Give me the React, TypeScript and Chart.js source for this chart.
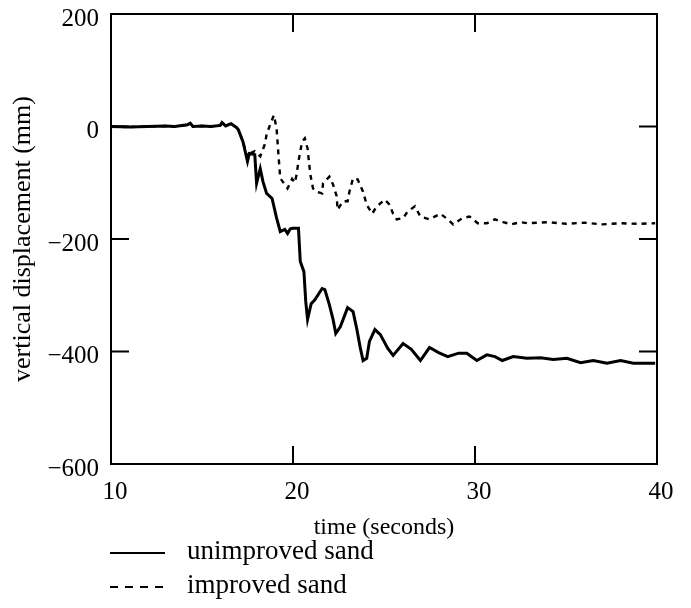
import React, { useEffect, useRef } from 'react';
import { Chart, registerables } from 'chart.js';

Chart.register(...registerables);

// ---- data ----
const unimprovedTime = [
  10.0, 11.0, 12.0, 13.0, 13.5, 14.2, 14.35, 14.5, 15.0, 15.5, 16.0, 16.1, 16.3, 16.6, 16.9,
  17.0, 17.25, 17.5, 17.6, 17.9, 18.0, 18.2, 18.35, 18.55, 18.85, 19.1, 19.3, 19.55, 19.7, 19.85,
  20.0, 20.3, 20.4, 20.6, 20.7, 20.8, 21.0, 21.2, 21.6, 21.75, 22.0, 22.2, 22.35, 22.6, 23.0,
  23.3, 23.5, 23.7, 23.85, 24.05, 24.2, 24.5, 24.8, 25.2, 25.5, 26.05, 26.5, 27.0, 27.5, 28.0,
  28.5, 29.1, 29.55, 30.1, 30.65, 31.1, 31.5, 32.1, 32.85, 33.6, 34.3, 35.05, 35.8, 36.5, 37.25,
  38.0, 38.7, 39.9,
];
const unimprovedDisp = [
  0, -1, 0, 1, 0, 3, 6, 0, 1, 0, 2, 7, 1, 5, -2,
  -6, -27, -62, -48, -50, -101, -75, -98, -119, -128, -163, -187, -183, -190, -182,
  -181, -181, -240, -258, -311, -343, -315, -308, -288, -290, -317, -343, -368, -356, -322,
  -329, -359, -394, -416, -412, -382, -361, -370, -394, -407, -386, -396, -416, -393, -402,
  -409, -403, -403, -416, -406, -409, -416, -409, -412, -411, -414, -412, -420, -416, -421,
  -416, -421, -421,
];

const improvedTime = [
  10.0, 11.0, 12.0, 13.0, 13.5, 14.2, 14.35, 14.5, 15.0, 15.5, 16.0, 16.1, 16.3, 16.6, 16.9,
  17.0, 17.25, 17.5, 17.6, 17.9, 18.2, 18.45, 18.55, 18.75, 18.95, 19.1, 19.2, 19.3, 19.55, 19.7,
  19.95, 20.1, 20.2, 20.3, 20.4, 20.5, 20.65, 20.8, 20.95, 21.1, 21.3, 21.6, 21.65, 22.0, 22.2,
  22.4, 22.45, 22.75, 23.0, 23.1, 23.3, 23.55, 23.85, 24.05, 24.35, 24.6, 25.05, 25.3, 25.5, 25.7,
  26.05, 26.3, 26.7, 27.0, 27.5, 28.1, 28.5, 28.8, 29.3, 29.7, 30.15, 30.65, 31.1, 31.55, 32.0,
  32.5, 32.9, 34.0, 35.0, 36.0, 37.0, 38.0, 39.0, 39.9,
];
const improvedDisp = [
  0, -1, 0, 1, 0, 3, 6, 0, 1, 0, 2, 7, 1, 5, -2,
  -6, -27, -55, -48, -44, -53, -32, -14, 4, 20, -4, -50, -92, -103, -110,
  -93, -100, -85, -62, -44, -27, -21, -39, -85, -110, -116, -119, -101, -89, -103,
  -124, -148, -133, -133, -116, -92, -94, -116, -139, -155, -142, -130, -139, -155, -165,
  -163, -151, -142, -160, -165, -155, -165, -174, -163, -160, -172, -172, -165, -170, -174,
  -170, -172, -170, -173, -171, -174, -172, -173, -172,
];

const seriesLabels = ['unimproved sand', 'improved sand'];
const xTickValues = [10, 20, 30, 40];
const yTickValues = [200, 0, -200, -400, -600];
const yTickLabels = ['200', '0', '\u2212200', '\u2212400', '\u2212600'];
const xTitle = 'time (seconds)';
const yTitle = 'vertical displacement (mm)';

const FONT = '"Liberation Serif", "Times New Roman", serif';

const framePlugin = {
  id: 'frameTicks',
  afterDatasetsDraw(chart: any) {
    const { ctx, chartArea, scales } = chart;
    const { left, right, top, bottom } = chartArea;
    const xs = scales.x;
    const ys = scales.y;
    const len = 18;
    ctx.save();
    ctx.strokeStyle = '#000';
    ctx.lineWidth = 2;
    ctx.setLineDash([]);
    ctx.strokeRect(left, top, right - left, bottom - top);
    ctx.beginPath();
    xs.ticks.forEach((t: any) => {
      const px = xs.getPixelForValue(t.value);
      if (Math.abs(px - left) < 2 || Math.abs(px - right) < 2) return;
      ctx.moveTo(px, bottom);
      ctx.lineTo(px, bottom - len);
      ctx.moveTo(px, top);
      ctx.lineTo(px, top + len);
    });
    ys.ticks.forEach((t: any) => {
      const py = ys.getPixelForValue(t.value);
      if (Math.abs(py - top) < 2 || Math.abs(py - bottom) < 2) return;
      ctx.moveTo(left, py);
      ctx.lineTo(left + len, py);
      ctx.moveTo(right, py);
      ctx.lineTo(right - len, py);
    });
    ctx.stroke();
    ctx.restore();
  },
};

const legendPlugin = {
  id: 'stackedLegend',
  afterDraw(chart: any) {
    const { ctx } = chart;
    const rows = [553, 587];
    ctx.save();
    chart.data.datasets.forEach((ds: any, i: number) => {
      const y = rows[i];
      ctx.beginPath();
      ctx.strokeStyle = '#000';
      ctx.lineWidth = 2;
      ctx.setLineDash(ds.borderDash && ds.borderDash.length ? [8, 7] : []);
      ctx.moveTo(110, y);
      ctx.lineTo(165, y);
      ctx.stroke();
      ctx.setLineDash([]);
      ctx.fillStyle = '#000';
      ctx.font = `27px ${FONT}`;
      ctx.textAlign = 'left';
      ctx.textBaseline = 'middle';
      ctx.fillText(ds.label, 187, y - 1);
    });
    ctx.restore();
  },
};

export default function App() {
  const ref = useRef<HTMLCanvasElement | null>(null);

  useEffect(() => {
    if (!ref.current) return;
    const chart = new Chart(ref.current, {
      type: 'line',
      data: {
        datasets: [
          {
            label: seriesLabels[0],
            data: unimprovedTime.map((t, i) => ({ x: t, y: unimprovedDisp[i] })),
            borderColor: '#000',
            borderWidth: 3,
            pointRadius: 0,
            tension: 0,
            fill: false,
          },
          {
            label: seriesLabels[1],
            data: improvedTime.map((t, i) => ({ x: t, y: improvedDisp[i] })),
            borderColor: '#000',
            borderWidth: 2.4,
            borderDash: [5, 5],
            pointRadius: 0,
            tension: 0,
            fill: false,
          },
        ],
      },
      options: {
        animation: false,
        responsive: true,
        maintainAspectRatio: false,
        layout: { padding: { top: 14, right: 34, bottom: 66, left: 0 } },
        plugins: { legend: { display: false }, tooltip: { enabled: false } },
        scales: {
          x: {
            type: 'linear',
            min: 10,
            max: 40,
            afterBuildTicks: (s: any) => {
              s.ticks = xTickValues.map((v) => ({ value: v }));
            },
            ticks: {
              color: '#000',
              font: { family: FONT, size: 25 },
              padding: 13,
              labelOffset: 4,
              maxRotation: 0,
              autoSkip: false,
              callback: (v: any) => String(v),
            },
            grid: { display: false, drawTicks: false },
            border: { display: false },
            title: {
              display: true,
              text: xTitle,
              color: '#000',
              font: { family: FONT, size: 24 },
              padding: 0,
            },
            afterFit: (s: any) => {
              s.height = 78;
              s.paddingLeft = 0;
              s.paddingRight = 0;
            },
          },
          y: {
            type: 'linear',
            min: -600,
            max: 200,
            afterBuildTicks: (s: any) => {
              s.ticks = yTickValues.map((v) => ({ value: v }));
            },
            ticks: {
              color: '#000',
              font: { family: FONT, size: 25 },
              padding: 12,
              labelOffset: 5,
              autoSkip: false,
              callback: (v: any) => {
                const idx = yTickValues.indexOf(Number(v));
                return idx >= 0 ? yTickLabels[idx] : '';
              },
            },
            grid: { display: false, drawTicks: false },
            border: { display: false },
            title: {
              display: true,
              text: yTitle,
              color: '#000',
              font: { family: FONT, size: 26 },
              padding: { top: 8, bottom: 0 },
            },
            afterFit: (s: any) => {
              s.width = 111;
              s.paddingTop = 0;
              s.paddingBottom = 0;
            },
          },
        },
      },
      plugins: [framePlugin, legendPlugin],
    });
    return () => chart.destroy();
  }, []);

  return (
    <div style={{ position: 'fixed', left: 0, top: 0, width: 691, height: 608, background: '#fff' }}>
      <canvas ref={ref} />
    </div>
  );
}
